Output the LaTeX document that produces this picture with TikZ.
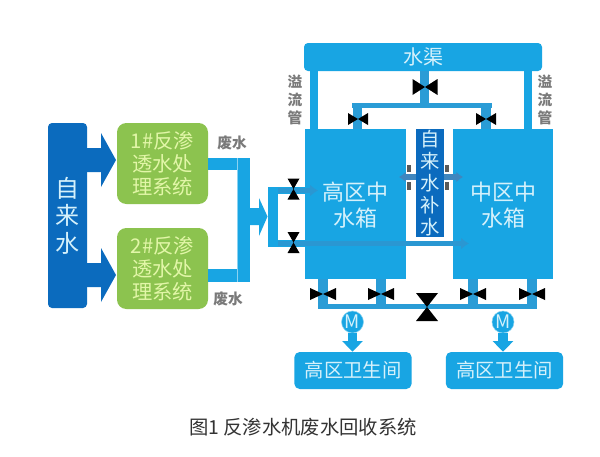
\documentclass[tikz,border=0pt]{standalone}
\usepackage{fontspec}
\usetikzlibrary{arrows.meta}
\setmainfont{Noto Sans CJK SC}
\definecolor{deep}{HTML}{0B6BBE}
\definecolor{sky}{HTML}{18A5E3}
\definecolor{duct}{HTML}{2A9CD6}
\definecolor{leaf}{HTML}{8CC34F}
\definecolor{steel}{HTML}{3F86BE}
\definecolor{graytxt}{HTML}{7A7A7A}
\definecolor{paleblue}{HTML}{D5F1FB}
\definecolor{palegreen}{HTML}{E2F6A8}
\newcommand{\valveH}[4]{\fill[black] (#1-#3/2,#2-#4/2) -- (#1+#3/2,#2+#4/2) -- (#1+#3/2,#2-#4/2) -- (#1-#3/2,#2+#4/2) -- cycle;}
\newcommand{\valveV}[4]{\fill[black] (#1-#3/2,#2-#4/2) -- (#1+#3/2,#2-#4/2) -- (#1-#3/2,#2+#4/2) -- (#1+#3/2,#2+#4/2) -- cycle;}
\tikzset{
 boxbase/.style={inner sep=0pt,align=center},
 deepbox/.style={boxbase,fill=deep,text=paleblue,rounded corners=3pt},
 greenbox/.style={boxbase,fill=leaf,text=palegreen,rounded corners=7pt,minimum width=68.25pt,minimum height=60.75pt,font=\fontsize{15.2pt}{17.4pt}\selectfont},
 tankbox/.style={boxbase,fill=sky,text=paleblue,minimum height=112.5pt},
 roombox/.style={boxbase,fill=sky,text=paleblue,rounded corners=4pt,minimum height=27.75pt,minimum width=88pt,font=\fontsize{14.5pt}{16pt}\selectfont},
 pipe/.style={draw=sky,line cap=butt},
 graylbl/.style={inner sep=0pt,text=graytxt,font=\fontsize{11pt}{13.5pt}\selectfont\bfseries,align=center},
 motor/.style={circle,fill=sky,draw=paleblue!60!sky,line width=.4pt,text=paleblue,inner sep=0pt,minimum size=16.5pt,font=\fontsize{14pt}{14pt}\selectfont},
 thinarrow/.style={draw=steel,line width=4pt},
}
\begin{document}
\begin{tikzpicture}[x=0.75pt,y=-0.75pt]
\useasboundingbox[fill=white] (0,0) rectangle (600,457);
% source and treatment units
\node[deepbox,minimum width=29.25pt,minimum height=138.75pt,font=\fontsize{18pt}{20.6pt}\selectfont] (src) at (67.5,215.5) {自\\来\\水};
\node[greenbox] (ro1) at (162.5,163.5) {1\#反渗\\透水处\\理系统};
\node[greenbox] (ro2) at (162.5,268.5) {2\#反渗\\透水处\\理系统};
% feed arrows
\fill[deep] (87,148) -- (101,148) -- (101,133) -- (116,160) -- (101,187) -- (101,172) -- (87,172) -- cycle;
\fill[deep] (87,263) -- (101,263) -- (101,248) -- (116,275) -- (101,302) -- (101,287) -- (87,287) -- cycle;
% waste pipes
\coordinate (wj1) at (250,164); \coordinate (wj2) at (250,275.5);
\draw[pipe,line width=9.5pt] (ro1.east |- wj1) -- (wj1);
\draw[pipe,line width=9.5pt] (ro2.east |- wj2) -- (wj2);
\fill[sky] (237,158) rectangle (250,282);
\draw[white,line width=.5pt,opacity=.5] (237,158) -- (237,282);
% arrow to bracket
\fill[sky] (250,208) -- (259,208) -- (259,198) -- (267.5,216.5) -- (259,236) -- (259,225) -- (250,225) -- cycle;
% tanks and canal
\node[tankbox,minimum width=75.75pt] (tankL) at (355.5,204) {};
\node[tankbox,minimum width=75pt] (tankR) at (503,204) {};
\node[boxbase,fill=sky,text=paleblue,rounded corners=3pt,minimum width=178.5pt,minimum height=21pt,font=\fontsize{15pt}{15pt}\selectfont] (canal) at (423,57) {水渠};
\node[boxbase,fill=deep,text=paleblue,minimum width=21pt,minimum height=81pt,font=\fontsize{14.5pt}{16.4pt}\selectfont] (make) at (430,183) {自\\来\\水\\补\\水};
\node[inner sep=0pt,text=paleblue,align=center,font=\fontsize{16.5pt}{19.5pt}\selectfont] (tlL) at (355,205) {高区中\\水箱};
\node[inner sep=0pt,text=paleblue,align=center,font=\fontsize{16.5pt}{19.5pt}\selectfont] (tlR) at (503,205) {中区中\\水箱};
% overflow
\coordinate (ofL) at (314,71); \coordinate (ofR) at (527.5,71); \coordinate (ofC) at (424.5,71);
\draw[pipe,line width=6pt] (ofL) -- (ofL |- tankL.north);
\draw[pipe,line width=6pt] (ofR) -- (ofR |- tankR.north);
\coordinate (hc) at (424.5,108); \coordinate (hl) at (352,105.5); \coordinate (hr) at (492,105.5);
\coordinate (dl) at (357.5,103); \coordinate (dr) at (486,103);
\draw[draw=duct,line width=6.5pt] (ofC) -- (hc);
\draw[draw=duct,line width=3.75pt] (hl) -- (hr);
\draw[draw=duct,line width=7pt] (dl) -- (dl |- tankL.north);
\draw[draw=duct,line width=7pt] (dr) -- (dr |- tankR.north);
\valveH{425}{87}{25}{16}
\valveH{358}{119}{20}{12}
\valveH{486}{119}{20}{12}
% make-up water side arrows
\coordinate (sl) at (399,177); \coordinate (sr) at (463,177);
\draw[thinarrow,-{Latex[length=5pt,width=8pt]}] (make.west |- sl) -- (sl);
\draw[thinarrow,-{Latex[length=5pt,width=8pt]}] (make.east |- sr) -- (sr);
\fill[black!65] (407,165) rectangle (411,172); \fill[black!65] (407,182) rectangle (411,190);
\fill[black!65] (445,165) rectangle (449,172); \fill[black!65] (445,182) rectangle (449,190);
% inlet bracket
\draw[pipe,line width=7.5pt] (273,187) -- (273,247);
\draw[pipe,line width=5.25pt] (268,190.5) -- (305,190.5);
\draw[pipe,line width=5.25pt] (268,243.5) -- (305,243.5);
\draw[draw=steel!45!sky,line width=4pt,-{Latex[length=6pt,width=9pt]}] (278,190.5) -- (318,190.5);
\draw[draw=steel!45!sky,line width=4pt,-{Latex[length=6pt,width=9pt]}] (278,243.5) -- (469,243.5);
\valveV{293.5}{189}{12}{21}
\valveV{293.5}{242.5}{12}{21}
% outlet manifold
\foreach \mx in {323,381,472.5,532}{
 \draw[draw=duct,line width=7.5pt] (\mx,279) -- (\mx,306);
}
\draw[draw=duct,line width=3.75pt] (318,306.5) -- (537,306.5);
\valveH{323}{294}{26}{12}
\valveH{381}{294}{26}{12}
\valveH{473}{294}{26}{12}
\valveH{532}{294}{26}{12}
\valveV{427}{307}{22}{28}
% pumps and rooms
\node[roombox] (rmL) at (353,370.5) {高区卫生间};
\node[roombox] (rmR) at (504.5,370.5) {高区卫生间};
\node[motor] (mL) at (352.5,322) {M};
\node[motor] (mR) at (503,322) {M};
\draw[pipe,line width=7pt,-{Triangle[length=8pt,width=15pt]}] (mL.south) -- (mL |- rmL.north);
\draw[pipe,line width=7pt,-{Triangle[length=8pt,width=15pt]}] (mR.south) -- (mR |- rmR.north);
% labels
\node[graylbl] (ol) at (295,100) {溢\\流\\管};
\node[graylbl] (or) at (545,100) {溢\\流\\管};
\node[graylbl] (w1) at (232,143) {废水};
\node[graylbl] (w2) at (228,299) {废水};
\node[inner sep=0pt,text=black!80,font=\fontsize{14.5pt}{16pt}\selectfont] (cap) at (303,427) {图1 反渗水机废水回收系统};
\end{tikzpicture}
\end{document}
